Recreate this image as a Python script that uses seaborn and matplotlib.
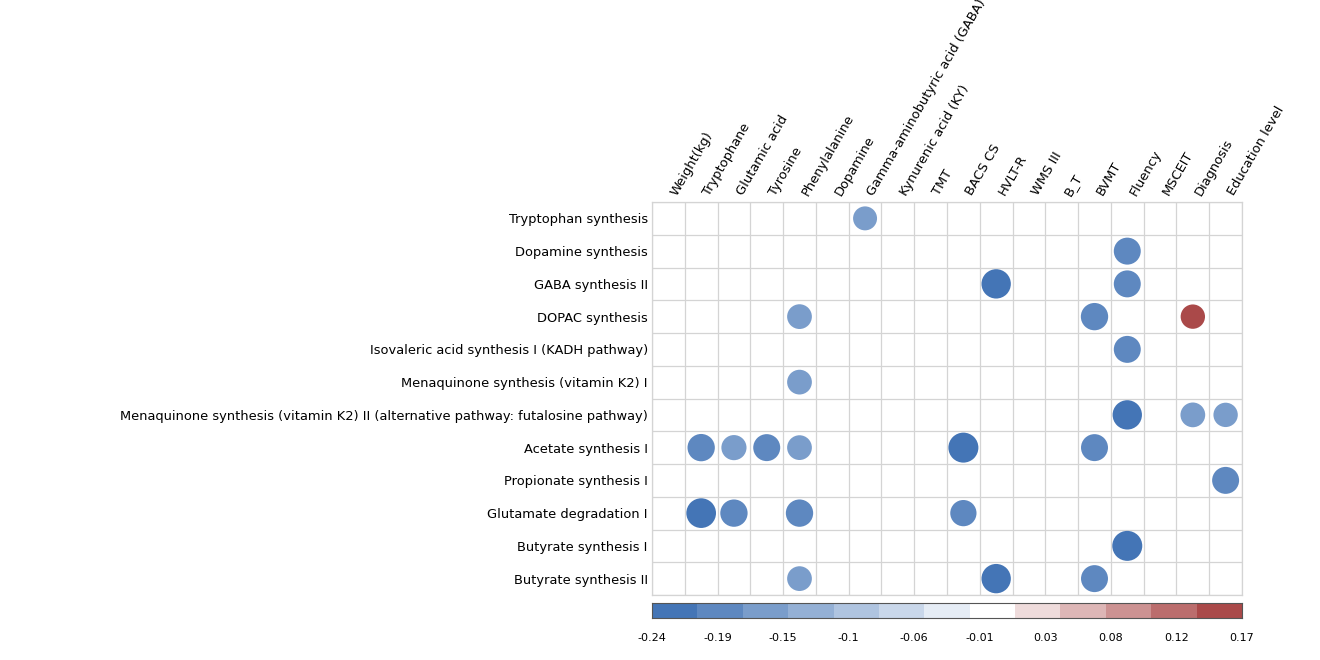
import numpy as np
import pandas as pd
import matplotlib
matplotlib.use("Agg")
import matplotlib.pyplot as plt
import matplotlib.transforms as mtransforms
import seaborn as sns

# ---------------- data ----------------
rows = [
    "Tryptophan synthesis",
    "Dopamine synthesis",
    "GABA synthesis II",
    "DOPAC synthesis",
    "Isovaleric acid synthesis I (KADH pathway)",
    "Menaquinone synthesis (vitamin K2) I",
    "Menaquinone synthesis (vitamin K2) II (alternative pathway: futalosine pathway)",
    "Acetate synthesis I",
    "Propionate synthesis I",
    "Glutamate degradation I",
    "Butyrate synthesis I",
    "Butyrate synthesis II",
]
cols = [
    "Weight(kg)", "Tryptophane", "Glutamic acid", "Tyrosine", "Phenylalanine",
    "Dopamine", "Gamma-aminobutyric acid (GABA)", "Kynurenic acid (KY)", "TMT",
    "BACS CS", "HVLT-R", "WMS III", "B_T", "BVMT", "Fluency", "MSCEIT",
    "Diagnosis", "Education level",
]
# significant cells: (pathway, variable, correlation)
cell_row = [
    "Tryptophan synthesis",
    "Dopamine synthesis",
    "GABA synthesis II", "GABA synthesis II",
    "DOPAC synthesis", "DOPAC synthesis", "DOPAC synthesis",
    "Isovaleric acid synthesis I (KADH pathway)",
    "Menaquinone synthesis (vitamin K2) I",
    "Menaquinone synthesis (vitamin K2) II (alternative pathway: futalosine pathway)",
    "Menaquinone synthesis (vitamin K2) II (alternative pathway: futalosine pathway)",
    "Menaquinone synthesis (vitamin K2) II (alternative pathway: futalosine pathway)",
    "Acetate synthesis I", "Acetate synthesis I", "Acetate synthesis I",
    "Acetate synthesis I", "Acetate synthesis I", "Acetate synthesis I",
    "Propionate synthesis I",
    "Glutamate degradation I", "Glutamate degradation I",
    "Glutamate degradation I", "Glutamate degradation I",
    "Butyrate synthesis I",
    "Butyrate synthesis II", "Butyrate synthesis II", "Butyrate synthesis II",
]
cell_col = [
    "Gamma-aminobutyric acid (GABA)",
    "Fluency",
    "HVLT-R", "Fluency",
    "Phenylalanine", "BVMT", "Diagnosis",
    "Fluency",
    "Phenylalanine",
    "Fluency", "Diagnosis", "Education level",
    "Tryptophane", "Glutamic acid", "Tyrosine", "Phenylalanine", "BACS CS", "BVMT",
    "Education level",
    "Tryptophane", "Glutamic acid", "Phenylalanine", "BACS CS",
    "Fluency",
    "Phenylalanine", "HVLT-R", "BVMT",
]
cell_val = [
    -0.150,
    -0.190,
    -0.225, -0.190,
    -0.160, -0.195, 0.155,
    -0.190,
    -0.160,
    -0.225, -0.160, -0.155,
    -0.195, -0.165, -0.190, -0.160, -0.235, -0.190,
    -0.190,
    -0.230, -0.195, -0.195, -0.180,
    -0.235,
    -0.160, -0.225, -0.190,
]
color_min, color_max = -0.24, 0.17
cbar_tick_labels = ["-0.24", "-0.19", "-0.15", "-0.1", "-0.06",
                    "-0.01", "0.03", "0.08", "0.12", "0.17"]

# ---------------- palette ----------------
neg_part = sns.blend_palette(["#4475b6", "#ffffff"], 8)
pos_part = sns.blend_palette(["#ffffff", "#aa4949"], 6)[1:]
palette = list(neg_part) + list(pos_part)
n_colors = len(palette)


def value_to_color(v):
    frac = (v - color_min) / (color_max - color_min)
    idx = int(np.clip(np.floor(frac * n_colors), 0, n_colors - 1))
    return matplotlib.colors.to_hex(palette[idx])


df = pd.DataFrame({"row": cell_row, "col": cell_col, "value": cell_val})
df["x"] = df["col"].map({c: i for i, c in enumerate(cols)})
df["y"] = df["row"].map({r: i for i, r in enumerate(rows)})
df["absval"] = df["value"].abs()
df["color"] = df["value"].map(value_to_color)

# ---------------- figure ----------------
sns.set_style("white")
plt.rcParams["font.family"] = ["DejaVu Sans"]
plt.rcParams["text.color"] = "black"
plt.rcParams["xtick.color"] = "black"
plt.rcParams["ytick.color"] = "black"
plt.rcParams["xtick.labelcolor"] = "black"
plt.rcParams["ytick.labelcolor"] = "black"

W, H = 1320, 660
fig = plt.figure(figsize=(W / 100, H / 100), dpi=100)
ax = fig.add_axes([652 / W, 1 - 595 / H, 590 / W, 393 / H])
cax = fig.add_axes([652 / W, 1 - 618 / H, 590 / W, 15 / H])

size_k = 1985
sns.scatterplot(
    data=df, x="x", y="y", hue="color",
    palette={c: c for c in df["color"].unique()},
    size="absval", sizes=(0, 0.25 * size_k), size_norm=(0, 0.25),
    marker="o", linewidth=0, legend=False, ax=ax, zorder=3,
)

ax.set_xlim(-0.5, len(cols) - 0.5)
ax.set_ylim(len(rows) - 0.5, -0.5)
ax.set_xticks(range(len(cols)))
ax.set_yticks(range(len(rows)))
ax.xaxis.tick_top()
ax.set_xticklabels(cols, rotation=60, ha="left", fontsize=9.4)
ax.set_yticklabels(rows, fontsize=9.4)
shift = mtransforms.ScaledTranslation(-3.5 / 100, 0, fig.dpi_scale_trans)
for lbl in ax.get_xticklabels():
    lbl.set_transform(lbl.get_transform() + shift)
ax.set_xticks(np.arange(-0.5, len(cols), 1), minor=True)
ax.set_yticks(np.arange(-0.5, len(rows), 1), minor=True)
ax.grid(False, which="major")
ax.grid(True, which="minor", color="#d4d4d4", linewidth=0.9)
ax.set_axisbelow(True)
ax.tick_params(which="both", length=0)
ax.tick_params(axis="x", pad=3)
ax.tick_params(axis="y", pad=3)
ax.set_xlabel("")
ax.set_ylabel("")
for sp in ax.spines.values():
    sp.set_color("#d4d4d4")
    sp.set_linewidth(0.9)

# colorbar
bw = (color_max - color_min) / n_colors
lefts = color_min + bw * np.arange(n_colors)
cax.barh(y=[0] * n_colors, width=[bw] * n_colors, left=lefts, height=1,
         color=palette, linewidth=0, align="center")
cax.set_xlim(color_min, color_max)
cax.set_ylim(-0.5, 0.5)
cax.set_yticks([])
cax.set_xticks(np.linspace(color_min, color_max, len(cbar_tick_labels)))
cax.set_xticklabels(cbar_tick_labels, fontsize=8)
cax.tick_params(axis="x", length=3, width=0.8, color="#333333", pad=8)
for sp in cax.spines.values():
    sp.set_color("#555555")
    sp.set_linewidth(0.8)

fig.savefig("out.png", dpi=100)
